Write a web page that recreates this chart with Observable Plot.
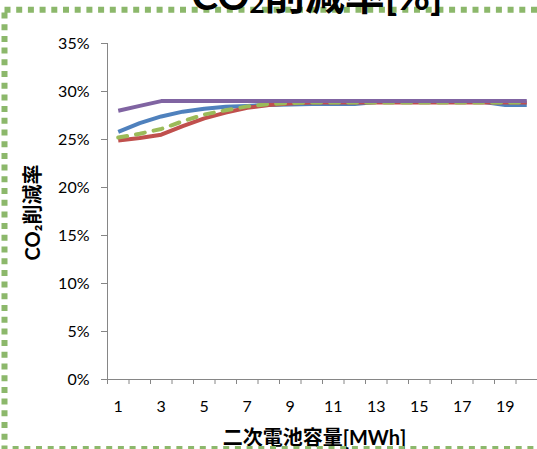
<!DOCTYPE html>
<html>
<head>
<meta charset="utf-8">
<script src="https://cdn.jsdelivr.net/npm/d3@7"></script>
<script src="https://cdn.jsdelivr.net/npm/@observablehq/plot@0.6"></script>
<style>
  html, body { margin: 0; padding: 0; background: #fff; }
  #wrap { position: relative; width: 537px; height: 449px; overflow: hidden; background: #fff; }
  #wrap > svg { position: absolute; left: 0; top: 0; }
  #overlay { pointer-events: none; }
</style>
</head>
<body>
<div id="wrap"></div>
<script>
// ---- data (values in %) ----
const categories = [1, 2, 3, 4, 5, 6, 7, 8, 9, 10, 11, 12, 13, 14, 15, 16, 17, 18, 19, 20];
const xTickLabels = [1, 3, 5, 7, 9, 11, 13, 15, 17, 19];
const yTicks = [0, 5, 10, 15, 20, 25, 30, 35];
const seriesBlue   = [25.8, 26.7, 27.4, 27.9, 28.2, 28.4, 28.5, 28.6, 28.65, 28.7, 28.7, 28.7, 28.9, 28.9, 28.9, 28.9, 28.9, 28.9, 28.6, 28.6];
const seriesRed    = [24.9, 25.15, 25.5, 26.4, 27.2, 27.8, 28.3, 28.6, 28.75, 28.85, 28.85, 28.85, 28.85, 28.85, 28.85, 28.85, 28.85, 28.85, 28.85, 28.85];
const seriesGreen  = [25.2, 25.6, 26.1, 26.9, 27.6, 28.05, 28.45, 28.7, 28.8, 28.85, 28.85, 28.85, 28.85, 28.85, 28.85, 28.85, 28.85, 28.85, 28.85, 28.85];
const seriesPurple = [28.0, 28.5, 29.0, 29.0, 29.0, 29.0, 29.0, 29.0, 29.0, 29.0, 29.0, 29.0, 29.0, 29.0, 29.0, 29.0, 29.0, 29.0, 29.0, 29.0];
const titleMain = "CO";
const titleSub = "2";
const titleRest = "削減率[%]";
const yLabel = "CO₂削減率";
const xLabel = "二次電池容量[MWh]";

const toRows = (vals) => vals.map((v, i) => ({x: categories[i], y: v}));
const boundaries = [...categories.map(c => c - 0.5), categories[categories.length - 1] + 0.5];

const latin = "Lato, 'Noto Sans CJK JP', sans-serif";
const axisGray = "#868686";

const chart = Plot.plot({
  width: 537,
  height: 449,
  marginLeft: 107,
  marginRight: 0,
  marginTop: 43,
  marginBottom: 70,
  x: {domain: [0.5, 20.5]},
  y: {domain: [0, 35]},
  style: {fontFamily: latin, fontSize: "16px", color: "#000", background: "transparent", overflow: "visible"},
  marks: [
    Plot.axisY({ticks: yTicks, tickFormat: d => d + "%", tickSize: 6, tickPadding: 12, stroke: axisGray, label: null, fontSize: 16}),
    Plot.axisX({ticks: boundaries, tickFormat: () => "", tickSize: 5, stroke: axisGray, label: null}),
    Plot.axisX({ticks: xTickLabels, tickSize: 0, tickPadding: 21, label: null, fontSize: 16}),
    Plot.ruleX([0.5], {stroke: axisGray, strokeWidth: 1}),
    Plot.ruleY([0], {stroke: axisGray, strokeWidth: 1}),
    Plot.line(toRows(seriesBlue),   {x: "x", y: "y", stroke: "#4F81BD", strokeWidth: 4, strokeLinecap: "butt"}),
    Plot.line(toRows(seriesRed),    {x: "x", y: "y", stroke: "#C0504D", strokeWidth: 4, strokeLinecap: "butt"}),
    Plot.line(toRows(seriesGreen),  {x: "x", y: "y", stroke: "#9BBB59", strokeWidth: 4, strokeLinecap: "round", strokeDasharray: "9,9"}),
    Plot.line(toRows(seriesPurple), {x: "x", y: "y", stroke: "#8064A2", strokeWidth: 4, strokeLinecap: "butt"}),
    Plot.text([yLabel], {frameAnchor: "left", textAnchor: "middle", dx: -74, dy: 1, rotate: -90, lineAnchor: "middle", fontWeight: "bold", fontSize: 20, fill: "#000"}),
    Plot.text([xLabel], {frameAnchor: "bottom", textAnchor: "middle", dx: -8, dy: 59, lineAnchor: "middle", fontWeight: "bold", fontSize: 20, fill: "#000"})
  ]
});
document.getElementById("wrap").appendChild(chart);

// overlay: dotted chart-area border and the (cropped) chart title
const ov = d3.select("#wrap").append("svg")
  .attr("id", "overlay").attr("width", 537).attr("height", 449);
ov.append("rect")
  .attr("x", 4.5).attr("y", 9.7).attr("width", 700).attr("height", 439.3)
  .attr("fill", "none").attr("stroke", "#8cb86b").attr("stroke-width", 6)
  .attr("stroke-dasharray", "6,5.7");
const t = ov.append("text")
  .attr("x", 317).attr("y", 10)
  .attr("text-anchor", "middle")
  .attr("font-family", latin).attr("font-weight", "bold").attr("font-size", 40).attr("fill", "#000");
t.append("tspan").text(titleMain);
t.append("tspan").attr("font-size", 26).attr("dy", 3).text(titleSub);
t.append("tspan").attr("dy", -3).text(titleRest);
</script>
</body>
</html>
